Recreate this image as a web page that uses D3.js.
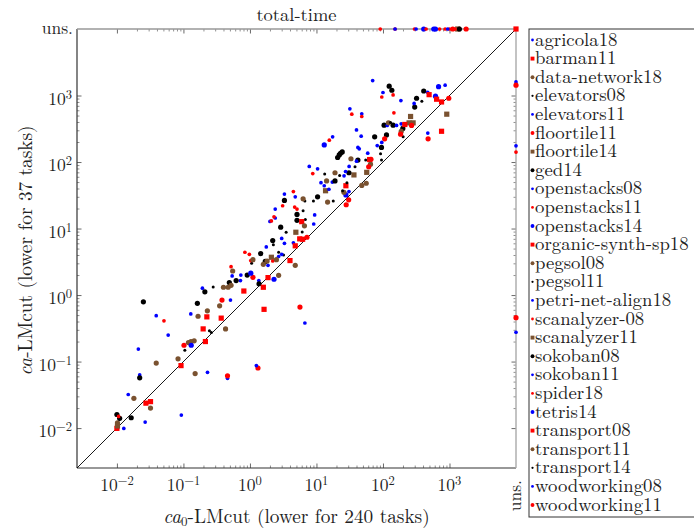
<!DOCTYPE html>
<html>
<head>
<meta charset="utf-8">
<script src="https://cdn.jsdelivr.net/npm/d3@7"></script>
<style>
  body { margin: 0; background: #fff; }
  svg text { font-family: "Latin Modern Roman", "CMU Serif", "Liberation Serif", "DejaVu Serif", serif; fill: #222; }
</style>
</head>
<body>
<div id="chart"></div>
<script>
// "uns." = unsolved, drawn on the outer edge of the plot
const UNS = "uns";

const benchmarks = ["agricola18", "barman11", "data-network18", "elevators08", "elevators11",
  "floortile11", "floortile14", "ged14", "openstacks08", "openstacks11", "openstacks14",
  "organic-synth-sp18", "pegsol08", "pegsol11", "petri-net-align18", "scanalyzer-08",
  "scanalyzer11", "sokoban08", "sokoban11", "spider18", "tetris14", "transport08",
  "transport11", "transport14", "woodworking08", "woodworking11"];

const markColors = ["blue", "red", "brown", "black", "blue", "red", "brown", "black", "blue", "red",
  "blue", "red", "brown", "black", "blue", "red", "brown", "black", "blue", "red",
  "blue", "red", "brown", "black", "blue", "red"];

const markShapes = ["dot", "square", "circle", "dot", "dot", "circle", "square", "circle", "dot", "dot",
  "circle", "square", "circle", "dot", "dot", "dot", "square", "circle", "dot", "dot",
  "circle", "square", "circle", "dot", "dot", "circle"];

const majorTicks = [1e-2, 1e-1, 1e0, 1e1, 1e2, 1e3];
const tickExponents = ["\u22122", "\u22121", "0", "1", "2", "3"];

// [ca0-LMcut time, ca-LMcut time] per task, seconds
const agricola18 = [[0.0102,0.0099],[0.0127,0.0099],[0.0266,0.0123],[0.093,0.0157],[0.0148,0.032],[0.022,0.063],[0.021,0.154],[0.039,0.49],[0.059,0.25],[0.23,0.069],[0.46,0.056]];
const barman11 = [[0.01,0.0099],[0.0273,0.0237],[0.032,0.025],[0.092,0.087],[0.214,0.2],[0.198,0.31],[0.37,0.45],[0.225,0.47]];
const dataNetwork18 = [[0.0102,0.012],[0.032,0.020],[0.018,0.028],[0.039,0.095],[0.083,0.11],[0.15,0.066],[0.119,0.193],[0.13,0.2],[0.145,0.205],[0.43,0.31],[0.166,0.48],[0.229,0.58]];
const elevators08 = [[0.105,0.148],[0.246,0.29],[0.263,0.273],[0.28,1.32],[1.06,3.0],[3.2,4.0],[2.7,4.4],[2.25,5.7]];
const elevators11 = [[0.129,0.52],[0.51,0.84],[0.193,1.27],[0.72,1.65],[0.54,1.94],[0.73,2.0],[6.7,0.38],[1.36,1.65],[1.87,2.8],[2.7,3.8],[3.0,4.1]];
const floortile11 = [[0.46,0.061],[0.102,0.176],[0.38,0.84],[1.11,1.85],[5.65,0.66],[7.2,7.4],[30.5,27],[976,910],[1.32,0.08],[1120,UNS]];
const floortile14 = [[0.0102,0.0108],[2.1,3.7],[4.9,8.8],[13.7,37],[910,524]];
const ged14 = [[0.01,0.016],[0.011,0.014],[0.0164,0.0143],[0.022,0.057],[0.025,0.79],[0.162,0.75],[0.21,1.12],[0.49,1.54],[0.62,1.65],[0.91,2.0],[1.37,1.48],[1.45,4.2],[1.7,3.2],[2.2,6.6],[2.9,10.5],[3.3,26.5],[5.1,16.3],[5.1,13.3]];
const openstacks08 = [[1.76,5.3],[3.0,7.1],[3.3,6.0],[2.0,12.8],[2.4,14.4],[2.4,19.6],[3.3,33],[4.5,6.1],[9.4,16],[9.1,11.7],[4.8,30]];
const openstacks11 = [[0.0106,0.015],[0.051,0.41],[0.52,2.67],[0.84,4.4],[0.98,4.1],[1.03,3.3],[2.2,3.25],[91,UNS],[152,UNS]];
const openstacks14 = [[0.131,0.176],[1.03,2.13],[2.3,1.73],[27.7,32],[410,UNS]];
const organicSynthSp18 = [[0.81,1.15],[1.63,0.61],[1.59,1.31],[1.87,1.83],[4.0,3.3],[5.6,7.0],[6.2,6.9],[4.8,5.5]];
const pegsol08 = [[0.35,0.69],[0.4,1.31],[0.47,1.31],[0.52,1.4],[0.55,2.3],[2.7,1.98],[4.8,2.8],[1.11,3.4],[1.81,3.25],[1.59,2.9],[2.5,3.4]];
const pegsol11 = [[3.5,8.8],[6.1,8.9],[6.3,18.5],[6.8,13.7],[6.7,26],[9.0,26],[17.9,26],[13.3,66],[22.3,63]];
const petriNetAlign18 = [[15.4,39],[13.1,44],[11.7,49],[17.3,50],[26,62],[7.8,86],[10.4,79],[30.8,36],[31,86],[70,1680],[100,1110]];
const scanalyzer08 = [[2.1,13],[2.3,15],[3.1,22],[4.7,21],[5.1,19.6],[4.5,36],[8.8,67],[298,UNS],[445,UNS],[710,UNS]];
const scanalyzer11 = [[260,484],[247,388],[284,388],[57,70],[36.6,64],[1330,UNS]];
const sokoban08 = [[10.4,30],[19,52],[23,135],[24.4,142],[30.8,69],[124,1380],[136,1200],[410,1170],[320,910],[300,670],[104,358],[142,358],[199,320],[75,239],[113,256],[95,166],[22,128],[20.8,117],[42,107],[1410,UNS]];
const sokoban11 = [[186,840],[470,1120],[860,1430],[294,760],[472,272],[31.8,630],[48,530],[116,355],[160,355],[188,375],[40,304]];
const spider18 = [[96,950],[142,1020],[34,524],[48,484],[146,550],[15.6,213],[860,UNS],[1000,UNS],[1210,UNS],[UNS,141]];
const tetris14 = [[685,1360],[616,976],[13.1,181],[580,UNS],[616,UNS]];
const transport08 = [[6.0,12.7],[27.7,44],[494,1030],[640,880],[760,800],[760,290],[213,367],[63,109],[UNS,UNS]];
const transport11 = [[6.6,11],[6.3,28],[14.7,25],[14.2,52],[19,69],[121,388],[188,288],[33,112],[65,93],[25.9,35],[48,44.5],[56,48]];
const transport14 = [[28.7,49],[384,820],[130,393],[201,239],[92,133],[95,107],[55,107],[38,85],[24.7,37]];
const woodworking08 = [[47,245],[96,197],[82,177],[17.5,239],[42,166],[44,158],[59,136],[40,103],[27.4,72],[1.25,0.087],[152,UNS],[315,UNS],[940,UNS],[UNS,1600],[UNS,175],[UNS,0.276]];
const woodworking11 = [[477,223],[269,355],[184,262],[106,223],[66,110],[61,85],[28,22.8],[1780,UNS],[UNS,1430],[UNS,0.457]];

const seriesData = [agricola18, barman11, dataNetwork18, elevators08, elevators11, floortile11,
  floortile14, ged14, openstacks08, openstacks11, openstacks14, organicSynthSp18, pegsol08,
  pegsol11, petriNetAlign18, scanalyzer08, scanalyzer11, sokoban08, sokoban11, spider18,
  tetris14, transport08, transport11, transport14, woodworking08, woodworking11];

const width = 694, height = 530;
const margin = { top: 29, left: 77, right: 178, bottom: 62 };
const plotRight = width - margin.right;
const plotBottom = height - margin.bottom;

const lo = Math.pow(10, -2.6), hi = 1e4;
const x = d3.scaleLog().domain([lo, hi]).range([margin.left, plotRight]);
const y = d3.scaleLog().domain([lo, hi]).range([plotBottom, margin.top]);
const px = v => v === UNS ? x(hi) : x(v);
const py = v => v === UNS ? y(hi) : y(v);

const colorMap = { blue: "#0000ff", red: "#ff0000", brown: "#7a5230", black: "#000000" };

const svg = d3.select("#chart").append("svg")
  .attr("width", width).attr("height", height);

// minor ticks 2..9 per decade from 10^-2 to 10^3
const minorTicks = [];
for (let e = -2; e < 3; e++) for (let m = 2; m <= 9; m++) minorTicks.push(m * Math.pow(10, e));

const axisColor = "#444";

function drawTicks(axisFn, scale, transform, size) {
  svg.append("g").attr("transform", transform)
    .call(axisFn(scale).tickValues(minorTicks).tickSize(size * 0.55).tickFormat(""))
    .call(g => g.select(".domain").remove())
    .call(g => g.selectAll("line").attr("stroke", axisColor).attr("stroke-width", 0.6));
  svg.append("g").attr("transform", transform)
    .call(axisFn(scale).tickValues(majorTicks).tickSize(size).tickFormat(""))
    .call(g => g.select(".domain").remove())
    .call(g => g.selectAll("line").attr("stroke", axisColor).attr("stroke-width", 0.8));
}
drawTicks(d3.axisBottom, x, `translate(0,${plotBottom})`, -4.5);
drawTicks(d3.axisTop, x, `translate(0,${margin.top})`, -4.5);
drawTicks(d3.axisLeft, y, `translate(${margin.left},0)`, -4.5);
drawTicks(d3.axisRight, y, `translate(${plotRight},0)`, -4.5);

// frame: left/bottom dark, uns. lines (top/right) gray
svg.append("line").attr("x1", margin.left).attr("x2", margin.left)
  .attr("y1", margin.top).attr("y2", plotBottom).attr("stroke", "#333").attr("stroke-width", 1.2);
svg.append("line").attr("x1", margin.left).attr("x2", plotRight)
  .attr("y1", plotBottom).attr("y2", plotBottom).attr("stroke", "#333").attr("stroke-width", 1.2);
svg.append("line").attr("x1", margin.left).attr("x2", plotRight)
  .attr("y1", margin.top).attr("y2", margin.top).attr("stroke", "#999").attr("stroke-width", 1.6);
svg.append("line").attr("x1", plotRight).attr("x2", plotRight)
  .attr("y1", margin.top).attr("y2", plotBottom).attr("stroke", "#aaa").attr("stroke-width", 1.4);

// diagonal
svg.append("line")
  .attr("x1", x(lo)).attr("y1", y(lo)).attr("x2", x(hi)).attr("y2", y(hi))
  .attr("stroke", "#000").attr("stroke-width", 0.9);

// tick labels
const fs = 17.5;
majorTicks.forEach((t, i) => {
  const tx = svg.append("text").attr("x", x(t)).attr("y", plotBottom + 23)
    .attr("text-anchor", "middle").style("font-size", fs + "px");
  tx.append("tspan").text("10");
  tx.append("tspan").attr("dy", "-0.45em").style("font-size", "12.5px").text(tickExponents[i]);

  const ty = svg.append("text").attr("x", margin.left - 5).attr("y", y(t) + 9)
    .attr("text-anchor", "end").style("font-size", fs + "px");
  ty.append("tspan").text("10");
  ty.append("tspan").attr("dy", "-0.45em").style("font-size", "12.5px").text(tickExponents[i]);
});
svg.append("text").attr("x", margin.left - 4).attr("y", margin.top + 5)
  .attr("text-anchor", "end").style("font-size", fs + "px").text("uns.");
svg.append("text")
  .attr("transform", `translate(${plotRight + 5},${plotBottom + 12}) rotate(-90)`)
  .attr("text-anchor", "end").style("font-size", fs + "px").text("uns.");

// title and axis labels
svg.append("text").attr("x", (margin.left + plotRight) / 2).attr("y", 21)
  .attr("text-anchor", "middle").style("font-size", "18.5px").text("total-time");

const xl = svg.append("text").attr("x", (margin.left + plotRight) / 2).attr("y", 523)
  .attr("text-anchor", "middle").style("font-size", "19.3px");
xl.append("tspan").style("font-style", "italic").text("ca");
xl.append("tspan").attr("dy", "2.5").style("font-size", "13px").text("0");
xl.append("tspan").attr("dy", "-2.5").text("-LMcut (lower for 240 tasks)");

svg.append("text")
  .attr("transform", `translate(32,${(margin.top + plotBottom) / 2 + 2}) rotate(-90)`)
  .attr("text-anchor", "middle").style("font-size", "19.3px")
  .call(t => {
    t.append("tspan").style("font-style", "italic").text("ca");
    t.append("tspan").text("-LMcut (lower for 37 tasks)");
  });

// marks
function drawMark(g, shape, color, cx, cy, scale) {
  const c = colorMap[color];
  if (shape === "square") {
    const s = 5.2 * scale;
    g.append("rect").attr("x", cx - s / 2).attr("y", cy - s / 2)
      .attr("width", s).attr("height", s).attr("fill", c);
  } else {
    const r = (shape === "circle" ? 2.6 : (color === "black" ? 1.5 : 1.85)) * scale;
    g.append("circle").attr("cx", cx).attr("cy", cy).attr("r", r).attr("fill", c);
  }
}

const marksG = svg.append("g");
seriesData.forEach((pts, i) => {
  const g = marksG.append("g").attr("class", "series-" + benchmarks[i]);
  pts.forEach(p => drawMark(g, markShapes[i], markColors[i], px(p[0]), py(p[1]), 1));
});

// legend
const legX = 529, legY = 29;
svg.append("rect").attr("x", legX).attr("y", legY)
  .attr("width", 200).attr("height", 488)
  .attr("fill", "#fff").attr("stroke", "#333").attr("stroke-width", 1);
const rowH = 18.6;
benchmarks.forEach((name, i) => {
  const cy = legY + 11 + i * rowH;
  const g = svg.append("g");
  drawMark(g, markShapes[i], markColors[i], legX + 3.5, cy, 0.75);
  g.append("text").attr("x", legX + 6).attr("y", cy + 5.5)
    .style("font-size", "18.8px").text(name);
});
</script>
</body>
</html>
